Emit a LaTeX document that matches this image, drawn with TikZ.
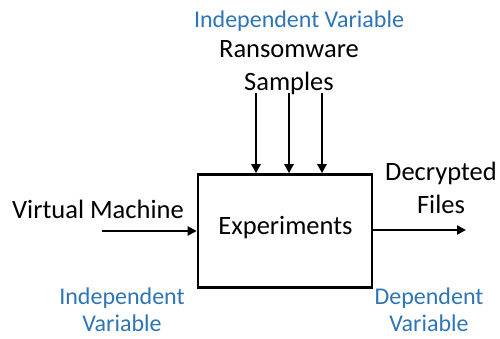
\documentclass[tikz,border=0pt]{standalone}
\usepackage{fontspec}
\setmainfont{Carlito}
\usetikzlibrary{arrows.meta}
\definecolor{varblue}{RGB}{46,117,182}
\tikzset{
  main/.style={font=\fontsize{26.5}{32.5}\selectfont, text=black, inner sep=0pt, align=center},
  role/.style={font=\fontsize{24}{26.5}\selectfont, text=varblue, inner sep=0pt, align=center},
  flow/.style={line width=2.6pt, -{Triangle[length=9pt,width=9pt]}},
  procbox/.style={draw, line width=2.6pt, minimum width=174pt, minimum height=113pt, inner sep=0pt}
}
\begin{document}
\begin{tikzpicture}[x=1pt,y=-1pt]
  \useasboundingbox (0,0) rectangle (500,338);
  % central process
  \node[procbox] (exp) at (285,231) {};
  \node[main, anchor=base] (explabel) at (285.5,234) {Experiments};
  % inputs and output (multi-line nodes sit on the baseline of their last line)
  \node[role, anchor=base] (ivtop) at (299,27) {Independent Variable};
  \node[main, anchor=base] (ransom) at (289,90) {Ransomware\\Samples};
  \node[main, anchor=base west] (vm) at (12,218) {Virtual Machine};
  \node[role, anchor=base] (ivleft) at (122,331) {Independent\\Variable};
  \node[main, anchor=base] (dec) at (441,213) {Decrypted\\Files};
  \node[role, anchor=base] (dv) at (429,331) {Dependent\\Variable};
  % connector ends
  \coordinate (s1) at (256,93);
  \coordinate (s2) at (289,93);
  \coordinate (s3) at (322,93);
  \coordinate (vmin) at (102,231);
  \coordinate (out) at (466,230);
  \draw[flow] (s1) -- (s1 |- exp.north);
  \draw[flow] (s2) -- (s2 |- exp.north);
  \draw[flow] (s3) -- (s3 |- exp.north);
  \draw[flow] (vmin) -- (vmin -| exp.west);
  \draw[flow] (exp.east |- out) -- (out);
\end{tikzpicture}
\end{document}
